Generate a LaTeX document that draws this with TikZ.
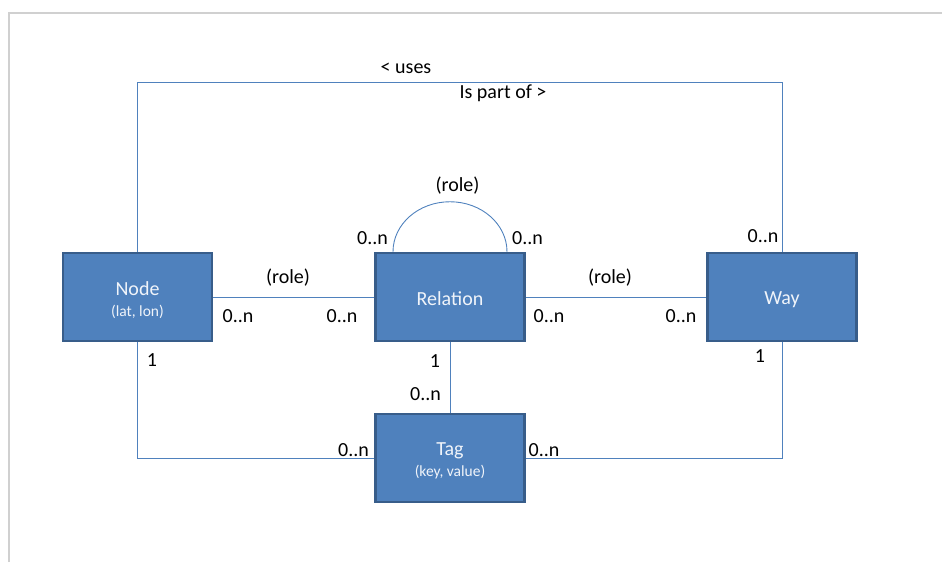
\documentclass[tikz,border=0pt]{standalone}
\usepackage{fontspec}
\setmainfont{Carlito}
\definecolor{boxfill}{RGB}{79,129,189}
\definecolor{boxline}{RGB}{56,93,138}
\definecolor{conn}{RGB}{79,129,189}
\definecolor{frame}{RGB}{208,208,208}
\definecolor{boxtext}{RGB}{240,244,250}
\tikzset{
  entity/.style={draw=boxline, line width=2.5pt, fill=boxfill, text=boxtext,
    minimum width=149pt, minimum height=88pt, inner sep=0pt, align=center,
    font=\fontsize{20}{22}\selectfont},
  conline/.style={draw=conn, line width=0.9pt},
  lbl/.style={inner sep=0pt, font=\fontsize{20}{22}\selectfont, text=black},
  etext/.style={text=boxtext, align=center, inner sep=0pt, font=\fontsize{20}{22}\selectfont}
}
\begin{document}
\begin{tikzpicture}[x=1pt, y=-1pt]
\useasboundingbox (0,0) rectangle (942,562);
% frame
\draw[frame, line width=2pt] (9,562) -- (9,13) -- (942,13);
% entities
\node[entity] (N) at (137.5,297) {};
\node[entity] (R) at (450,297) {};
\node[entity] (W) at (782,297) {};
\node[entity] (T) at (450,458) {};
\node[etext] (Nt) at ([yshift=-3pt]N.center) {Node\\[-1pt]{\fontsize{15.5}{17}\selectfont (lat, lon)}};
\node[etext] (Rt) at ([yshift=-1.5pt]R.center) {Relation};
\node[etext] (Wt) at ([yshift=-2.5pt]W.center) {Way};
\node[etext] (Tt) at ([yshift=-3pt]T.center) {Tag\\[-1pt]{\fontsize{15.5}{17}\selectfont (key, value)}};
\coordinate (top) at (0,82);
% connectors
\draw[conline] (N.north) -- (N.north |- top) -- (W.north |- top) -- (W.north);
\draw[conline] (N.east) -- (R.west);
\draw[conline] (R.east) -- (W.west);
\draw[conline] (R.south) -- (T.north);
\draw[conline] (N.south) |- (T.west);
\draw[conline] (W.south) |- (T.east);
\draw[conline] ([xshift=-57pt]R.north) arc[start angle=180, end angle=0, x radius=57pt, y radius=50pt];
% labels
\node[lbl] (l1) at (406,68) {< uses};
\node[lbl] (l2) at (503,93) {Is part of >};
\node[lbl] (l3) at (457.5,186) {(role)};
\node[lbl] (l4) at (372.5,238) {0..n};
\node[lbl] (l5) at (527.5,238) {0..n};
\node[lbl] (l6) at (763,236.5) {0..n};
\node[lbl] (l7) at (288,278) {(role)};
\node[lbl] (l8) at (238,316) {0..n};
\node[lbl] (l9) at (342,316) {0..n};
\node[lbl] (l10) at (610,278) {(role)};
\node[lbl] (l11) at (549,316) {0..n};
\node[lbl] (l12) at (681,316) {0..n};
\node[lbl] (l13) at (152,360) {1};
\node[lbl] (l14) at (435,361) {1};
\node[lbl] (l15) at (425.5,394) {0..n};
\node[lbl] (l16) at (760,356.5) {1};
\node[lbl] (l17) at (353.5,450) {0..n};
\node[lbl] (l18) at (544,450) {0..n};
\end{tikzpicture}
\end{document}
